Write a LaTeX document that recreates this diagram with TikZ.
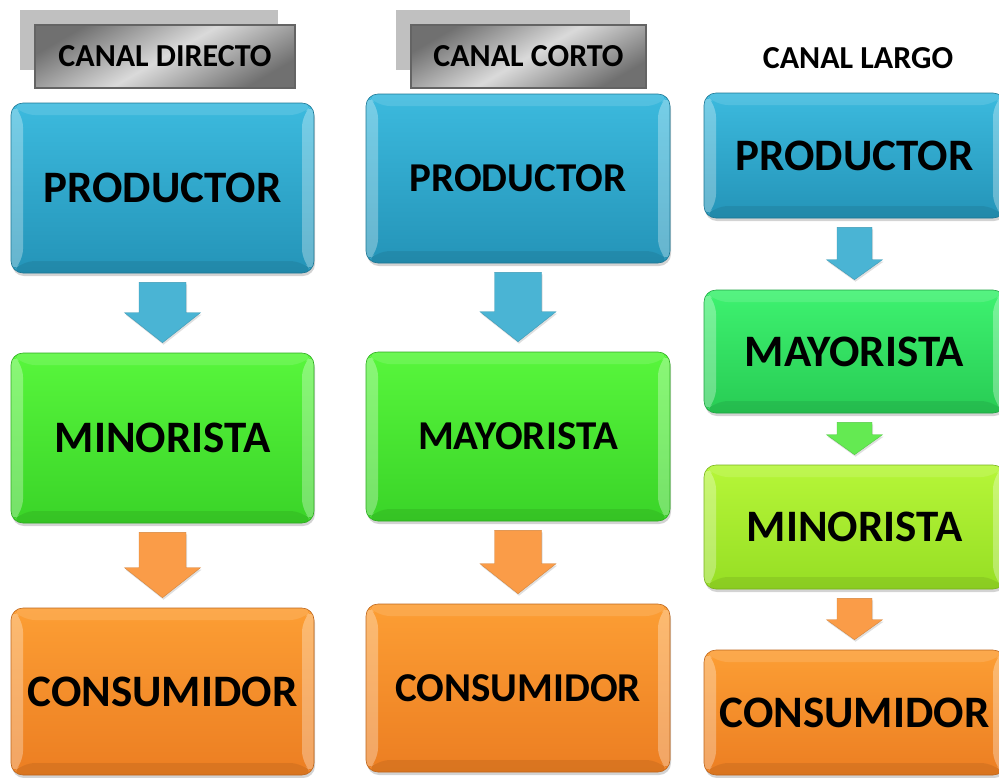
\documentclass[tikz,border=0pt]{standalone}
\usepackage{fontspec}
\setmainfont{Carlito}
\usetikzlibrary{shadows,calc}
\definecolor{bluetop}{RGB}{60,186,222}
\definecolor{bluebot}{RGB}{36,148,184}
\definecolor{grntop}{RGB}{88,246,60}
\definecolor{grnbot}{RGB}{58,212,40}
\definecolor{mgrntop}{RGB}{62,242,112}
\definecolor{mgrnbot}{RGB}{40,204,84}
\definecolor{ygrntop}{RGB}{182,246,56}
\definecolor{ygrnbot}{RGB}{150,222,36}
\definecolor{orgtop}{RGB}{252,158,52}
\definecolor{orgbot}{RGB}{236,126,34}
\definecolor{arrblue}{RGB}{74,180,212}
\definecolor{arrorg}{RGB}{250,156,72}
\definecolor{arrgrn}{RGB}{100,234,82}
\definecolor{shadowgrey}{RGB}{192,192,192}
\definecolor{hdark}{RGB}{112,112,112}
\definecolor{hlight}{RGB}{218,218,218}
\definecolor{hborder}{RGB}{100,100,100}
\tikzset{
  x=1pt,y=1pt,
  bevelbox/.style n args={2}{rectangle, rounded corners=12pt, inner sep=0pt,
    top color=#1, bottom color=#2, draw=#2!80!black, line width=0.6pt,
    drop shadow={shadow xshift=1pt, shadow yshift=-3pt, opacity=.35},
    font=\fontsize{45}{45}\selectfont\bfseries,
    path picture={
      \coordinate (A) at (path picture bounding box.north west);
      \coordinate (B) at (path picture bounding box.north east);
      \coordinate (C) at (path picture bounding box.south east);
      \coordinate (D) at (path picture bounding box.south west);
      \fill[white,opacity=.30] (A) -- ($(A)+(12,-12)$) -- ($(D)+(12,12)$) -- (D) -- cycle;
      \fill[white,opacity=.30] (B) -- ($(B)+(-12,-12)$) -- ($(C)+(-12,12)$) -- (C) -- cycle;
      \fill[white,opacity=.12] (A) -- (B) -- ($(B)+(-12,-12)$) -- ($(A)+(12,-12)$) -- cycle;
      \fill[black,opacity=.08] (D) -- (C) -- ($(C)+(-12,12)$) -- ($(D)+(12,12)$) -- cycle;
    }},
  smalltext/.style={font=\fontsize{41}{41}\selectfont\bfseries},
  headbox/.style={rectangle, inner sep=0pt, draw=hborder, line width=1.5pt,
    shading=axis, top color=hdark, bottom color=hdark, middle color=hlight, shading angle=30,
    font=\fontsize{32}{32}\selectfont\bfseries},
  headshadow/.style={fill=shadowgrey},
  headtext/.style={inner sep=0pt, font=\fontsize{32}{32}\selectfont\bfseries},
}
% #1 from, #2 to, #3 colour, #4 shaft half width, #5 head half width, #6 head length
\newcommand{\blockarr}[6]{%
  \path let \p1=(#1.south), \p2=(#2.north) in
    [fill=#3, draw=#3!85!black, line width=0.4pt,
     drop shadow={shadow xshift=1pt, shadow yshift=-2pt, opacity=.25}]
    ({\x1-#4pt},{\y1-9pt}) -- ({\x1+#4pt},{\y1-9pt}) -- ({\x1+#4pt},{\y2+10pt+#6pt})
    -- ({\x1+#5pt},{\y2+10pt+#6pt}) -- ({\x1},{\y2+10pt}) -- ({\x1-#5pt},{\y2+10pt+#6pt})
    -- ({\x1-#4pt},{\y2+10pt+#6pt}) -- cycle;}
\begin{document}
\begin{tikzpicture}
\useasboundingbox (0,0) rectangle (999,-777);
\clip (0,0) rectangle (999,-777);
% headers
\fill[headshadow] (20,-10) rectangle (278,-70);
\node[headbox, minimum width=260pt, minimum height=63pt] (h1) at (165,-56.5) {CANAL DIRECTO};
\fill[headshadow] (396,-10) rectangle (630,-70);
\node[headbox, minimum width=235pt, minimum height=63pt] (h2) at (528.5,-56.5) {CANAL CORTO};
\node[headtext] (h3) at (858,-58) {CANAL LARGO};
% column 1
\node[bevelbox={bluetop}{bluebot}, minimum width=303pt, minimum height=170pt] (p1) at (162.5,-188) {PRODUCTOR};
\node[bevelbox={grntop}{grnbot}, minimum width=303pt, minimum height=170pt] (m1) at (162.5,-438) {MINORISTA};
\node[bevelbox={orgtop}{orgbot}, minimum width=303pt, minimum height=167pt] (c1) at (162.5,-691.5) {CONSUMIDOR};
% column 2
\node[bevelbox={bluetop}{bluebot}, smalltext, minimum width=304pt, minimum height=169pt] (p2) at (518,-178.5) {PRODUCTOR};
\node[bevelbox={grntop}{grnbot}, smalltext, minimum width=304pt, minimum height=169pt] (y2) at (518,-436.5) {MAYORISTA};
\node[bevelbox={orgtop}{orgbot}, smalltext, minimum width=304pt, minimum height=168pt] (c2) at (518,-688) {CONSUMIDOR};
% column 3
\node[bevelbox={bluetop}{bluebot}, minimum width=301pt, minimum height=125pt] (p3) at (854.5,-155.5) {PRODUCTOR};
\node[bevelbox={mgrntop}{mgrnbot}, minimum width=301pt, minimum height=123pt] (y3) at (854.5,-351.5) {MAYORISTA};
\node[bevelbox={ygrntop}{ygrnbot}, minimum width=301pt, minimum height=124pt] (m3) at (854.5,-527) {MINORISTA};
\node[bevelbox={orgtop}{orgbot}, minimum width=301pt, minimum height=125pt] (c3) at (854.5,-712.5) {CONSUMIDOR};
% arrows
\blockarr{p1}{m1}{arrblue}{23.5}{38}{30}
\blockarr{m1}{c1}{arrorg}{23.5}{38}{30}
\blockarr{p2}{y2}{arrblue}{23.5}{38}{30}
\blockarr{y2}{c2}{arrorg}{23.5}{38}{30}
\blockarr{p3}{y3}{arrblue}{17.5}{28}{20}
\blockarr{y3}{m3}{arrgrn}{17.5}{28}{20}
\blockarr{m3}{c3}{arrorg}{17.5}{28}{20}
\end{tikzpicture}
\end{document}
